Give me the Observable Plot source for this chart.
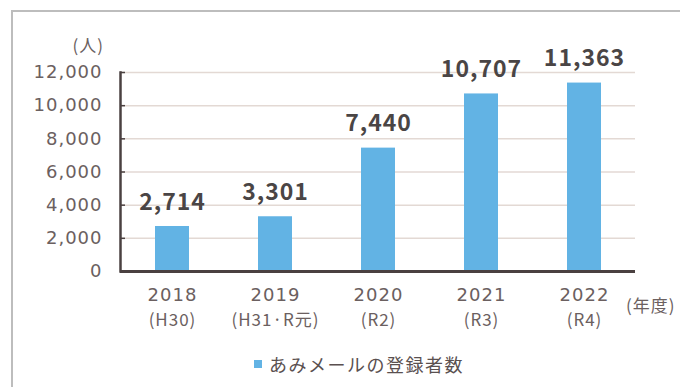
<!DOCTYPE html>
<html><head><meta charset="utf-8">
<script src="https://cdn.jsdelivr.net/npm/d3@7"></script>
<script src="https://cdn.jsdelivr.net/npm/@observablehq/plot@0.6"></script>
<style>
body{margin:0;background:#fff;font-family:"Noto Sans CJK JP","Noto Sans",sans-serif;}
#wrap{position:relative;width:680px;height:387px;overflow:hidden;}
#frame{position:absolute;left:11px;top:10px;width:700px;height:400px;border-top:2px solid #bdbdbd;border-left:2px solid #bdbdbd;}
#chart{position:absolute;left:0;top:0;}
#legend{position:absolute;left:254px;top:352px;font-size:18px;letter-spacing:1.5px;line-height:24px;color:#5a5050;display:flex;align-items:center;}
#legend span.sw{display:inline-block;width:8px;height:8px;background:#62b3e4;margin-right:7px;}
</style></head>
<body><div id="wrap"><div id="frame"></div><div id="chart"></div><div id="legend"><span class="sw"></span><span id="lt"></span></div></div>
<script>
const years = ["2018","2019","2020","2021","2022"];
const eras = ["(H30)","(H31·R元)","(R2)","(R3)","(R4)"];
const values = [2714, 3301, 7440, 10707, 11363];
const yTicks = [0, 2000, 4000, 6000, 8000, 10000, 12000];
const seriesName = "あみメールの登録者数";

document.getElementById("lt").textContent = seriesName;
const data = years.map((y, i) => ({year: y, era: eras[i], value: values[i]}));
const fmt = d3.format(",");
const font = '"Noto Sans CJK JP","Noto Sans",sans-serif';
const numFont = '"DejaVu Sans",sans-serif';

const chart = Plot.plot({
  width: 680, height: 336,
  marginLeft: 120, marginRight: 45, marginTop: 72, marginBottom: 65,
  style: {fontFamily: font, background: "transparent", overflow: "visible", letterSpacing: "1px"},
  x: {domain: years, paddingInner: 0.67, paddingOuter: 0.335, axis: null},
  y: {domain: [0, 12000], axis: null},
  marks: [
    Plot.gridY(yTicks.filter(d => d > 0), {stroke: "#e3d9d4", strokeOpacity: 1, strokeWidth: 1.5}),
    Plot.barY(data, {x: "year", y: "value", fill: "#62b3e4"}),
    Plot.frame({anchor: "left", stroke: "#4a4040", strokeWidth: 2.5}),
    Plot.axisY(yTicks, {tickSize: -5, stroke: "#4a4040", strokeWidth: 1.5, text: null, label: null}),
    Plot.axisY(yTicks, {tickSize: 0, tickPadding: 18, tickFormat: fmt, fontSize: 18, fontFamily: numFont, fill: "#6b6060", label: null}),
    Plot.axisX(years, {tickSize: 0, tickPadding: 17, fontSize: 18, fontFamily: numFont, fill: "#6b6060", label: null}),
    Plot.axisX(years, {tickSize: 0, tickPadding: 42, fontSize: 17, fill: "#6b6060", label: null,
      tickFormat: d => eras[years.indexOf(d)]}),
    Plot.ruleY([0], {stroke: "#4a4040", strokeWidth: 3}),
    Plot.text(data, {x: "year", y: "value", text: d => fmt(d.value), dy: -24, fontSize: 23, fontWeight: "bold", fill: "#4a4545"}),
    Plot.text(["(人)"], {frameAnchor: "top-left", dx: -48, dy: -33, fontSize: 17, fill: "#6b6060"}),
    Plot.text(["(年度)"], {frameAnchor: "bottom-right", dx: 40, dy: 40, fontSize: 17, fill: "#6b6060"})
  ]
});
document.getElementById("chart").appendChild(chart);
</script></body></html>
